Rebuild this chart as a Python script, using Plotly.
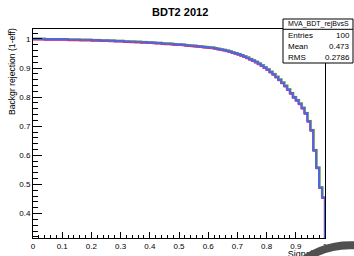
import numpy as np
import plotly.graph_objects as go

# ---------------- data ----------------
title = "BDT2 2012"
x_title = "Signal eff"
y_title = "Backgr rejection (1-eff)"
hist_name = "MVA_BDT_rejBvsS"
stat_labels = ["Entries", "Mean", "RMS"]
stat_values = ["100", "0.473", "0.2786"]

n_bins = 100
rejection = [
    1.000, 1.000, 1.000, 1.000, 0.999, 0.999, 0.999, 0.999, 0.999, 0.999,
    0.999, 0.999, 0.998, 0.998, 0.998, 0.998, 0.997, 0.997, 0.997, 0.997,
    0.996, 0.996, 0.996, 0.995, 0.995, 0.995, 0.994, 0.994, 0.993, 0.993,
    0.993, 0.992, 0.992, 0.991, 0.991, 0.990, 0.990, 0.989, 0.989, 0.988,
    0.988, 0.987, 0.986, 0.986, 0.985, 0.984, 0.984, 0.983, 0.982, 0.981,
    0.981, 0.980, 0.979, 0.978, 0.977, 0.976, 0.975, 0.974, 0.973, 0.972,
    0.971, 0.970, 0.968, 0.966, 0.964, 0.962, 0.960, 0.957, 0.954, 0.951,
    0.948, 0.944, 0.940, 0.936, 0.931, 0.926, 0.921, 0.915, 0.909, 0.902,
    0.895, 0.887, 0.879, 0.870, 0.860, 0.850, 0.839, 0.827, 0.814, 0.800,
    0.790, 0.778, 0.763, 0.745, 0.718, 0.687, 0.618, 0.558, 0.490, 0.456,
]
x_tick_vals = [0, 0.1, 0.2, 0.3, 0.4, 0.5, 0.6, 0.7, 0.8, 0.9, 1.0]
x_tick_text = ["0", "0.1", "0.2", "0.3", "0.4", "0.5", "0.6", "0.7", "0.8", "0.9", "1"]
y_tick_vals = [0.4, 0.5, 0.6, 0.7, 0.8, 0.9, 1.0]
y_tick_text = ["0.4", "0.5", "0.6", "0.7", "0.8", "0.9", "1"]

# ---------------- layout geometry ----------------
W, H = 354, 256
L, R, T, B = 33, 29, 29, 18
PW, PH = W - L - R, H - T - B
X_RANGE = [0.0, 1.0]
Y_RANGE = [0.316, 1.034]

def px(xp):
    return (xp - L) / PW

def py(yp):
    return (H - B - yp) / PH

edges = np.linspace(X_RANGE[0], X_RANGE[1], n_bins + 1)
xs = list(edges) + [X_RANGE[1]]
ys = list(rejection) + [rejection[-1], Y_RANGE[0]]

fig = go.Figure()

# faint coloured companion histograms drawn under the blue one (pixel offsets)
fringes = [
    ("#ff2020", 0.0, -1.0),
    ("#e020e0", -0.5, -0.6),
    ("#30c030", 0.8, 0.4),
    ("#e0e020", 0.6, 0.6),
]
dx_px = (X_RANGE[1] - X_RANGE[0]) / PW
dy_px = (Y_RANGE[1] - Y_RANGE[0]) / PH
axes_layout = {}
for i, (col, ox, oy) in enumerate(fringes):
    n = i + 2
    fig.add_trace(go.Scatter(x=xs, y=ys, mode="lines", line=dict(color=col, width=1.3, shape="hv"),
                             xaxis=f"x{n}", yaxis=f"y{n}", showlegend=False, hoverinfo="skip"))
    axes_layout[f"xaxis{n}"] = dict(overlaying="x", anchor=f"y{n}", visible=False, automargin=False,
                                    range=[X_RANGE[0] - ox * dx_px, X_RANGE[1] - ox * dx_px])
    axes_layout[f"yaxis{n}"] = dict(overlaying="y", anchor=f"x{n}", visible=False, automargin=False,
                                    range=[Y_RANGE[0] - oy * dy_px, Y_RANGE[1] - oy * dy_px])

nb = len(fringes) + 2
fig.add_trace(go.Scatter(x=xs, y=ys, mode="lines", line=dict(color="#4f68d6", width=2.2, shape="hv"),
                         xaxis=f"x{nb}", yaxis=f"y{nb}", showlegend=False, hoverinfo="skip"))
axes_layout[f"xaxis{nb}"] = dict(overlaying="x", anchor=f"y{nb}", visible=False, automargin=False,
                                 range=X_RANGE)
axes_layout[f"yaxis{nb}"] = dict(overlaying="y", anchor=f"x{nb}", visible=False, automargin=False,
                                 range=Y_RANGE)

# invisible helper trace on main axes
fig.add_trace(go.Scatter(x=[0.5], y=[0.5], mode="markers", marker=dict(opacity=0),
                         showlegend=False, hoverinfo="skip"))

tickfont = dict(family="Liberation Sans, Arial, sans-serif", size=8, color="black")

fig.update_layout(
    width=W, height=H,
    margin=dict(l=L, r=R, t=T, b=B, pad=0, autoexpand=False),
    paper_bgcolor="white", plot_bgcolor="white",
    showlegend=False,
    xaxis=dict(range=X_RANGE, tickvals=x_tick_vals, ticktext=x_tick_text, ticks="inside",
               ticklen=6, tickwidth=1, tickcolor="black", showline=True, linecolor="black",
               linewidth=1, mirror=True, showgrid=False, zeroline=False, tickfont=tickfont,
               automargin=False,
               minor=dict(dtick=0.02, tick0=0, ticks="inside", ticklen=3, tickcolor="black",
                          showgrid=False)),
    yaxis=dict(range=Y_RANGE, tickvals=y_tick_vals, ticktext=y_tick_text, ticks="inside",
               ticklen=9, tickwidth=1, tickcolor="black", showline=True, linecolor="black",
               linewidth=1, mirror=True, showgrid=False, zeroline=False, tickfont=tickfont,
               automargin=False,
               minor=dict(dtick=0.02, tick0=0, ticks="inside", ticklen=4.5, tickcolor="black",
                          showgrid=False)),
    # axis carrying the x title as a tick label (so the overlay ring can cover it)
    xaxis10=dict(overlaying="x", anchor="y", side="bottom", range=X_RANGE, tickmode="array",
                 tickvals=[X_RANGE[1]], ticktext=[x_title], ticks="", showline=False,
                 showgrid=False, zeroline=False, ticklabelposition="outside left",
                 ticklabelstandoff=9, automargin=False,
                 tickfont=dict(family="Liberation Sans, Arial, sans-serif", size=9, color="black")),
    **axes_layout,
)

# trace on the title axis to make sure it is drawn
fig.add_trace(go.Scatter(x=[0.5], y=[0.5], mode="markers", marker=dict(opacity=0),
                         xaxis="x10", yaxis="y", showlegend=False, hoverinfo="skip"))

shapes = []
# stats box
shapes.append(dict(type="rect", xref="paper", yref="paper", x0=px(283), x1=px(353), y0=py(63), y1=py(19),
                   line=dict(color="black", width=1), fillcolor="white", layer="above"))
shapes.append(dict(type="line", xref="paper", yref="paper", x0=px(283), x1=px(353), y0=py(29.3), y1=py(29.3),
                   line=dict(color="black", width=1), layer="above"))
# overlay ring (bottom right)
cx, cy, rr = 350, 325, 79.8
shapes.append(dict(type="circle", xref="paper", yref="paper", x0=px(cx - rr), x1=px(cx + rr),
                   y0=py(cy + rr), y1=py(cy - rr), line=dict(color="#505050", width=8),
                   fillcolor="white", layer="above"))
fig.update_layout(shapes=shapes)

sfont = dict(family="Liberation Sans, Arial, sans-serif", size=8, color="black")
ann = []
ann.append(dict(text=f"<b>{title}</b>", x=px(180), y=py(12.5), xref="paper", yref="paper",
                showarrow=False, xanchor="center", yanchor="middle",
                font=dict(family="Liberation Sans, Arial, sans-serif", size=11, color="black")))
ann.append(dict(text=y_title, x=px(12), y=py(72), xref="paper", yref="paper", textangle=-90,
                showarrow=False, xanchor="center", yanchor="middle",
                font=dict(family="Liberation Sans, Arial, sans-serif", size=8.6, color="black")))
ann.append(dict(text=hist_name, x=px(318), y=py(24), xref="paper", yref="paper", showarrow=False,
                xanchor="center", yanchor="middle",
                font=dict(family="Liberation Sans, Arial, sans-serif", size=7, color="black")))
for lab, val, yy in zip(stat_labels, stat_values, [36, 46.7, 57.3]):
    ann.append(dict(text=lab, x=px(285.5), y=py(yy), xref="paper", yref="paper", showarrow=False,
                    xanchor="left", yanchor="middle", font=sfont))
    ann.append(dict(text=val, x=px(351.5), y=py(yy), xref="paper", yref="paper", showarrow=False,
                    xanchor="right", yanchor="middle", font=sfont))
fig.update_layout(annotations=ann)

fig.write_html("out.html", config={"displayModeBar": False},
               post_script="document.body.style.margin='0';document.body.style.overflow='hidden';")
